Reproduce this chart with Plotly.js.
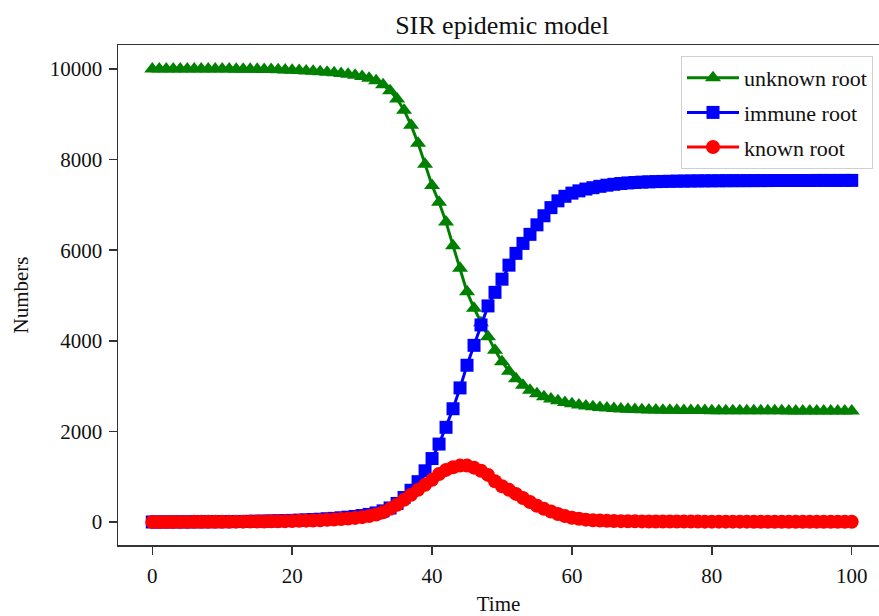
<!DOCTYPE html>
<html>
<head>
<meta charset="utf-8">
<script src="https://cdn.plot.ly/plotly-3.0.1.min.js"></script>
<style>html,body{margin:0;padding:0;background:#fff;}#chart{width:879px;height:616px;}</style>
</head>
<body>
<div id="chart"></div>
<script>
const time = [0,1,2,3,4,5,6,7,8,9,10,11,12,13,14,15,16,17,18,19,20,21,22,23,24,25,26,27,28,29,30,31,32,33,34,35,36,37,38,39,40,41,42,43,44,45,46,47,48,49,50,51,52,53,54,55,56,57,58,59,60,61,62,63,64,65,66,67,68,69,70,71,72,73,74,75,76,77,78,79,80,81,82,83,84,85,86,87,88,89,90,91,92,93,94,95,96,97,98,99,100];

const unknownRoot = [9999,9999,9999,9999,9999,9999,9999,9999,9999,9999,9999,9998,9997,9996,9995,9993,9990,9987,9983,9978,9972,9965,9958,9950,9940,9930,9918,9903,9885,9862,9835,9795,9740,9650,9520,9340,9090,8760,8360,7900,7430,7060,6620,6100,5600,5080,4720,4400,4090,3790,3540,3330,3160,3020,2910,2830,2765,2715,2675,2640,2610,2585,2563,2545,2530,2517,2506,2497,2490,2484,2479,2475,2472,2469,2467,2465,2463,2461,2460,2459,2458,2457,2456,2456,2455,2455,2454,2454,2453,2453,2453,2452,2452,2452,2451,2451,2451,2451,2450,2450,2450];

const immuneRoot = [0,0,1,1,2,2,3,4,5,6,7,8,10,12,14,16,19,22,26,30,35,40,46,53,61,70,80,92,106,122,142,167,200,245,310,410,540,700,890,1130,1400,1720,2090,2500,2960,3460,3900,4350,4770,5070,5360,5670,5930,6150,6350,6560,6760,6940,7090,7190,7260,7310,7350,7380,7410,7435,7455,7472,7485,7495,7503,7509,7514,7518,7521,7524,7526,7528,7530,7531,7532,7533,7534,7535,7535,7536,7536,7537,7537,7538,7538,7538,7539,7539,7539,7540,7540,7540,7540,7541,7541];

const knownRoot = [1,1,1,2,2,2,3,3,4,4,5,6,7,8,9,10,12,14,16,18,21,25,29,34,40,47,55,65,77,90,107,130,165,215,290,380,490,600,710,820,930,1060,1150,1210,1245,1245,1200,1130,1040,900,790,710,620,530,440,360,290,230,175,130,95,70,52,40,31,25,21,18,16,14,13,12,11,11,10,10,9,9,9,8,8,8,7,7,7,7,6,6,6,6,6,5,5,5,5,5,5,4,4,4,4];

const xTicks = [0,20,40,60,80,100];
const yTicks = [0,2000,4000,6000,8000,10000];

const FONT = "'Liberation Serif', 'Times New Roman', serif";

const traces = [
  {x: time, y: unknownRoot, name: 'unknown root', mode: 'lines+markers', legendgroup: 'a',
   line: {color: '#008000', width: 3}, marker: {symbol: 'triangle-up', size: 14, color: '#008000'}},
  {x: time, y: immuneRoot, name: 'immune root', mode: 'lines+markers', legendgroup: 'b',
   line: {color: '#0000ff', width: 3}, marker: {symbol: 'square', size: 13, color: '#0000ff'}},
  {x: time, y: knownRoot, name: 'known root', mode: 'lines+markers', legendgroup: 'c',
   line: {color: '#ff0000', width: 3}, marker: {symbol: 'circle', size: 14, color: '#ff0000'}}
];

const layout = {
  width: 879, height: 616,
  margin: {l: 118, r: 0, t: 45, b: 71, pad: 0},
  paper_bgcolor: '#fff', plot_bgcolor: '#fff',
  font: {family: FONT, size: 21, color: '#111'},
  title: {text: 'SIR epidemic model', font: {family: FONT, size: 26, color: '#111'},
          x: 502/879, xanchor: 'center', xref: 'container', y: 1 - 25/616, yanchor: 'middle', yref: 'container'},
  xaxis: {range: [-4.9, 103.9], tickvals: xTicks, ticktext: xTicks.map(String),
          ticks: 'outside', ticklen: 8, tickwidth: 1.5, tickcolor: '#333',
          showline: true, linecolor: '#333', linewidth: 1.5, mirror: true,
          showgrid: false, zeroline: false, ticklabelstandoff: 3,
          tickfont: {family: FONT, size: 21, color: '#111'},
          title: {text: 'Time', font: {family: FONT, size: 21, color: '#111'}, standoff: 9}},
  yaxis: {range: [-508, 10530], tickvals: yTicks, ticktext: yTicks.map(String),
          ticks: 'outside', ticklen: 8, tickwidth: 1.5, tickcolor: '#333',
          showline: true, linecolor: '#333', linewidth: 1.5, mirror: false,
          showgrid: false, zeroline: false, ticklabelstandoff: 2,
          tickfont: {family: FONT, size: 21, color: '#111'},
          title: {text: 'Numbers', font: {family: FONT, size: 21, color: '#111'}, standoff: 15}},
  legend: {x: (873-118)/761, xanchor: 'right', y: (545-56)/500, yanchor: 'top',
           bgcolor: '#fff', bordercolor: '#d0d0d0', borderwidth: 1,
           font: {family: FONT, size: 22, color: '#111'},
           itemwidth: 52, tracegroupgap: 3, traceorder: 'grouped'},
  showlegend: true
};

Plotly.newPlot('chart', traces, layout, {displayModeBar: false, staticPlot: true});
</script>
</body>
</html>
